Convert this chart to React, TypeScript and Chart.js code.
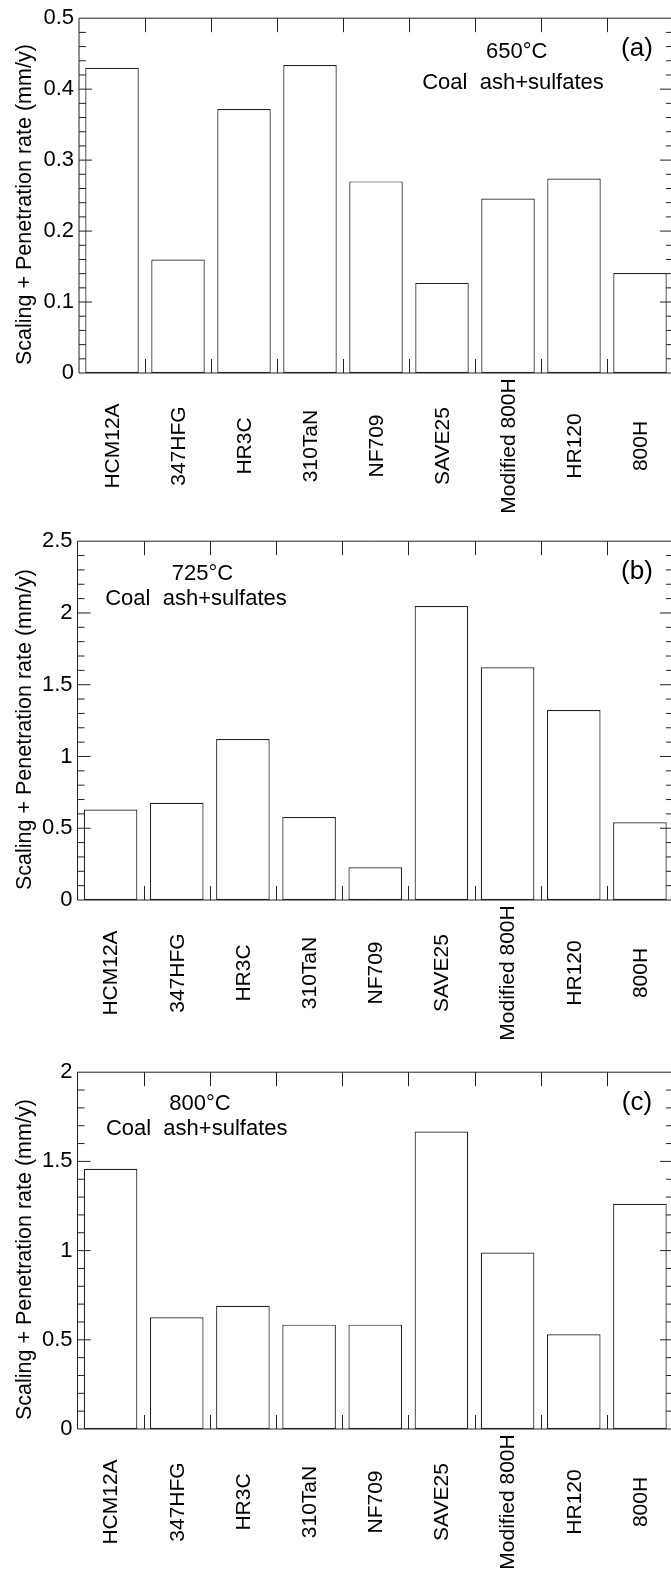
import React, { useEffect, useRef } from "react";
import { Chart, registerables } from "chart.js";

Chart.register(...registerables);

// ---------------- data ----------------
const categories = [
  "HCM12A",
  "347HFG",
  "HR3C",
  "310TaN",
  "NF709",
  "SAVE25",
  "Modified 800H",
  "HR120",
  "800H",
];
const rate650 = [0.43, 0.16, 0.372, 0.434, 0.27, 0.127, 0.246, 0.274, 0.141];
const rate725 = [0.631, 0.677, 1.122, 0.578, 0.228, 2.048, 1.622, 1.323, 0.541];
const rate800 = [1.459, 0.626, 0.691, 0.585, 0.585, 1.667, 0.989, 0.531, 1.263];

const panelLetters = ["(a)", "(b)", "(c)"];
const temperatureLabels = ["650°C", "725°C", "800°C"];
const environmentLabel = "Coal  ash+sulfates";
const yAxisTitle = "Scaling + Penetration rate (mm/y)";
const yMaxes = [0.5, 2.5, 2];
const yMajorSteps = [0.1, 0.5, 0.5];
const yMinorSteps = [0.02, 0.1, 0.1];
const seriesValues = [rate650, rate725, rate800];

// ---------------- layout / style ----------------
const FONT = "'Liberation Sans', Arial, Helvetica, sans-serif";
const CANVAS_W = 680;
const PAGE_W = 671;
const PAGE_H = 1572;
const TOP_PAD = 15;
const LINE = "#222";

type Layout = {
  plotTop: number;
  plotBottom: number;
  plotLeft: number;
  canvasH: number;
  tempX: number;
  tempDy: number;
  envX: number;
  envDy: number;
};

const layouts: Layout[] = [
  { plotTop: 15, plotBottom: 373, plotLeft: 79, canvasH: 523, tempX: 516.7, tempDy: 40, envX: 513, envDy: 71 },
  { plotTop: 538, plotBottom: 900, plotLeft: 77.5, canvasH: 531, tempX: 202.5, tempDy: 38.5, envX: 196, envDy: 63.5 },
  { plotTop: 1069, plotBottom: 1429, plotLeft: 77.5, canvasH: 518, tempX: 200, tempDy: 37.5, envX: 196.7, envDy: 62.5 },
];

function fmt(v: number): string {
  return String(parseFloat(Number(v).toFixed(3)));
}

function Panel({ idx }: { idx: number }) {
  const ref = useRef<HTMLCanvasElement | null>(null);
  const L = layouts[idx];

  useEffect(() => {
    const canvas = ref.current;
    if (!canvas) return;
    const values = seriesValues[idx];
    const yMax = yMaxes[idx];
    const major = yMajorSteps[idx];
    const minor = yMinorSteps[idx];
    const bottomPad = L.canvasH - TOP_PAD - (L.plotBottom - L.plotTop);

    const decor = {
      id: "decor" + idx,
      afterDatasetsDraw(chart: any) {
        const { ctx, chartArea: ca } = chart;
        const xs = chart.scales.x;
        const ys = chart.scales.y;
        ctx.save();
        ctx.strokeStyle = LINE;
        ctx.lineWidth = 1;
        // frame
        ctx.beginPath();
        ctx.rect(ca.left, ca.top, ca.right - ca.left, ca.bottom - ca.top);
        ctx.stroke();
        // y ticks (inside, both sides)
        const nMinor = Math.round(yMax / minor);
        const per = Math.round(major / minor);
        for (let k = 1; k < nMinor; k++) {
          const py = ys.getPixelForValue(k * minor);
          const len = k % per === 0 ? 13 : 7;
          ctx.beginPath();
          ctx.moveTo(ca.left, py);
          ctx.lineTo(ca.left + len, py);
          ctx.moveTo(ca.right - len, py);
          ctx.lineTo(ca.right, py);
          ctx.stroke();
        }
        // category boundary ticks, top and bottom
        for (let i = 1; i < categories.length; i++) {
          const bx = Math.round(xs.getPixelForValue(i + 0.5)) + 0.5;
          ctx.beginPath();
          ctx.moveTo(bx, ca.top);
          ctx.lineTo(bx, ca.top + 14);
          ctx.moveTo(bx, ca.bottom - 14);
          ctx.lineTo(bx, ca.bottom);
          ctx.stroke();
        }
        ctx.restore();
      },
      afterDraw(chart: any) {
        const { ctx, chartArea: ca } = chart;
        const xs = chart.scales.x;
        ctx.save();
        ctx.fillStyle = "#000";
        // category labels
        ctx.font = `21px ${FONT}`;
        categories.forEach((label, i) => {
          const px = xs.getPixelForValue(i + 1);
          ctx.save();
          ctx.translate(px + 1, ca.bottom + 73);
          ctx.rotate(-Math.PI / 2);
          ctx.textAlign = "center";
          ctx.textBaseline = "middle";
          ctx.fillText(label, 0, 0);
          ctx.restore();
        });
        // y axis title
        ctx.save();
        ctx.font = `21.5px ${FONT}`;
        ctx.translate(25, (ca.top + ca.bottom) / 2 + 9);
        ctx.rotate(-Math.PI / 2);
        ctx.textAlign = "center";
        ctx.textBaseline = "middle";
        ctx.fillText(yAxisTitle, 0, 0);
        ctx.restore();
        // annotations
        ctx.textAlign = "center";
        ctx.textBaseline = "alphabetic";
        ctx.font = `22px ${FONT}`;
        ctx.fillText(temperatureLabels[idx], L.tempX, ca.top + L.tempDy);
        ctx.fillText(environmentLabel, L.envX, ca.top + L.envDy);
        ctx.font = `26px ${FONT}`;
        ctx.fillText(panelLetters[idx], 637, ca.top + 38);
        ctx.restore();
      },
    };

    const chart = new Chart(canvas, {
      type: "bar",
      data: {
        datasets: [
          {
            data: categories.map((_, i) => ({ x: i + 1, y: values[i] })),
            backgroundColor: "#ffffff",
            borderColor: LINE,
            borderWidth: 1.2,
            borderSkipped: false,
            barPercentage: 0.81,
            categoryPercentage: 1,
          } as any,
        ],
      },
      options: {
        animation: false,
        responsive: false,
        maintainAspectRatio: false,
        events: [],
        layout: { padding: { top: TOP_PAD, bottom: bottomPad, left: 0, right: CANVAS_W - 673 } },
        plugins: {
          legend: { display: false },
          tooltip: { enabled: false },
          title: { display: false },
        },
        scales: {
          x: {
            type: "linear",
            min: 0.5,
            max: 9.5,
            offset: false,
            display: false,
            afterBuildTicks: (s: any) => {
              s.ticks = categories.map((_, i) => ({ value: i + 1 }));
            },
          },
          y: {
            type: "linear",
            min: 0,
            max: yMax,
            ticks: {
              stepSize: major,
              color: "#000",
              padding: 5,
              font: { family: FONT, size: 22 },
              callback: (v: any) => fmt(v),
            },
            grid: { display: false, drawTicks: false },
            border: { display: false },
            afterFit: (s: any) => {
              s.width = L.plotLeft;
            },
          },
        },
      } as any,
      plugins: [decor as any],
    });
    return () => chart.destroy();
  }, [idx]);

  return (
    <canvas
      ref={ref}
      width={CANVAS_W}
      height={L.canvasH}
      style={{
        position: "absolute",
        left: 0,
        top: L.plotTop - TOP_PAD,
        width: CANVAS_W,
        height: L.canvasH,
      }}
    />
  );
}

export default function App() {
  return (
    <div
      style={{
        position: "absolute",
        left: 0,
        top: 0,
        width: PAGE_W,
        height: PAGE_H,
        overflow: "hidden",
        background: "#fff",
      }}
    >
      <Panel idx={0} />
      <Panel idx={1} />
      <Panel idx={2} />
    </div>
  );
}
